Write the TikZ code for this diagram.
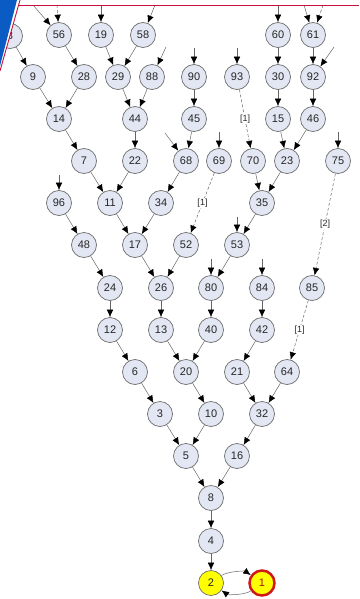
\documentclass[tikz,border=0pt]{standalone}
\usepackage{fontspec}
\setmainfont{Liberation Sans}
\usetikzlibrary{arrows.meta}
\definecolor{nodefill}{HTML}{E3E7F3}
\definecolor{nodeline}{HTML}{6E6E6E}
\definecolor{edgecol}{HTML}{656565}
\definecolor{topred}{HTML}{C8103C}
\definecolor{topblue}{HTML}{0A5CC4}
\definecolor{startyellow}{HTML}{FFFF00}
\definecolor{endred}{HTML}{D01818}
\tikzset{
  nd/.style={circle, draw=nodeline, line width=0.7pt, fill=nodefill, minimum size=25pt, inner sep=0pt,
    font=\fontsize{11}{13}\selectfont, text=black!85},
  ed/.style={draw=edgecol, line width=0.5pt, -{Latex[length=7.5pt,width=6.5pt,color=black]}},
  dsh/.style={ed, densely dashed},
  lbl/.style={fill=white, inner sep=1pt, font=\fontsize{9}{10}\selectfont, text=black!85}
}
\begin{document}
\begin{tikzpicture}[x=1pt,y=-1pt]
\useasboundingbox (0,0) rectangle (359,599);
% nodes
\node[nd] (n8a) at (10,36) {8};
\node[nd] (n56) at (59,35) {56};
\node[nd] (n19) at (101,35) {19};
\node[nd] (n58) at (143,35) {58};
\node[nd] (n60) at (278,35) {60};
\node[nd] (n61) at (313,35) {61};
\node[nd] (n9) at (33,77) {9};
\node[nd] (n28) at (84,77) {28};
\node[nd] (n29) at (118,77) {29};
\node[nd] (n88) at (152,77) {88};
\node[nd] (n90) at (194,77) {90};
\node[nd] (n93) at (237,77) {93};
\node[nd] (n30) at (278,77) {30};
\node[nd] (n92) at (313,77) {92};
\node[nd] (n14) at (59,119) {14};
\node[nd] (n44) at (135,119) {44};
\node[nd] (n45) at (194,119) {45};
\node[nd] (n15) at (278,119) {15};
\node[nd] (n46) at (313,119) {46};
\node[nd] (n7) at (84,161) {7};
\node[nd] (n22) at (135,161) {22};
\node[nd] (n68) at (186,161) {68};
\node[nd] (n69) at (219,161) {69};
\node[nd] (n70) at (253,161) {70};
\node[nd] (n23) at (287,161) {23};
\node[nd] (n75) at (338,161) {75};
\node[nd] (n96) at (59,203) {96};
\node[nd] (n11) at (110,203) {11};
\node[nd] (n34) at (161,203) {34};
\node[nd] (n35) at (262,203) {35};
\node[nd] (n48) at (84,245) {48};
\node[nd] (n17) at (135,245) {17};
\node[nd] (n52) at (186,245) {52};
\node[nd] (n53) at (237,245) {53};
\node[nd] (n24) at (110,288) {24};
\node[nd] (n26) at (161,288) {26};
\node[nd] (n80) at (211,288) {80};
\node[nd] (n84) at (262,288) {84};
\node[nd] (n85) at (312,288) {85};
\node[nd] (n12) at (110,330) {12};
\node[nd] (n13) at (161,330) {13};
\node[nd] (n40) at (211,330) {40};
\node[nd] (n42) at (262,330) {42};
\node[nd] (n6) at (135,372) {6};
\node[nd] (n20) at (186,372) {20};
\node[nd] (n21) at (237,372) {21};
\node[nd] (n64) at (287,372) {64};
\node[nd] (n3) at (160,414) {3};
\node[nd] (n10) at (211,414) {10};
\node[nd] (n32) at (262,414) {32};
\node[nd] (n5) at (186,456) {5};
\node[nd] (n16) at (237,456) {16};
\node[nd] (n8) at (211,498) {8};
\node[nd] (n4) at (211,541) {4};
\node[nd, fill=startyellow] (n2) at (211,583) {2};
\node[nd, fill=startyellow, draw=endred, line width=2.5pt, text=endred!80!black] (n1) at (262,583) {1};
% stub ends
\coordinate (s56a) at (33,5);
\coordinate (s56b) at (57,5);
\coordinate (s19) at (101,5);
\coordinate (s58) at (155,5);
\coordinate (s88) at (166,47);
\coordinate (s90) at (194,48);
\coordinate (s93) at (237,48);
\coordinate (s60) at (278,5);
\coordinate (s61a) at (304,5);
\coordinate (s61b) at (323,5);
\coordinate (s92) at (334,47);
\coordinate (s68) at (165,133);
\coordinate (s69) at (219,132);
\coordinate (s75) at (338,132);
\coordinate (s96) at (59,175);
\coordinate (s53) at (237,217);
\coordinate (s80) at (211,259);
\coordinate (s84) at (262,259);
% stub edges
\draw[ed] (s56a) -- (n56);
\draw[dsh] (s56b) -- (n56);
\draw[ed] (s19) -- (n19);
\draw[ed] (s58) -- (n58);
\draw[ed] (s88) -- (n88);
\draw[ed] (s90) -- (n90);
\draw[ed] (s93) -- (n93);
\draw[ed] (s60) -- (n60);
\draw[ed] (s61a) -- (n61);
\draw[dsh] (s61b) -- (n61);
\draw[ed] (s92) -- (n92);
\draw[ed] (s68) -- (n68);
\draw[ed] (s69) -- (n69);
\draw[ed] (s75) -- (n75);
\draw[ed] (s96) -- (n96);
\draw[ed] (s53) -- (n53);
\draw[ed] (s80) -- (n80);
\draw[ed] (s84) -- (n84);
% edges
\draw[ed] (n8a) -- (n9);
\draw[ed] (n56) -- (n28);
\draw[ed] (n19) -- (n29);
\draw[ed] (n58) -- (n29);
\draw[ed] (n9) -- (n14);
\draw[ed] (n28) -- (n14);
\draw[ed] (n29) -- (n44);
\draw[ed] (n88) -- (n44);
\draw[ed] (n90) -- (n45);
\draw[dsh] (n93) -- node[lbl] {[1]} (n70);
\draw[ed] (n60) -- (n30);
\draw[ed] (n61) -- (n92);
\draw[ed] (n30) -- (n15);
\draw[ed] (n92) -- (n46);
\draw[ed] (n14) -- (n7);
\draw[ed] (n44) -- (n22);
\draw[ed] (n45) -- (n68);
\draw[ed] (n15) -- (n23);
\draw[ed] (n46) -- (n23);
\draw[ed] (n7) -- (n11);
\draw[ed] (n22) -- (n11);
\draw[ed] (n68) -- (n34);
\draw[dsh] (n69) -- node[lbl] {[1]} (n52);
\draw[ed] (n70) -- (n35);
\draw[ed] (n23) -- (n35);
\draw[dsh] (n75) -- node[lbl] {[2]} (n85);
\draw[ed] (n96) -- (n48);
\draw[ed] (n11) -- (n17);
\draw[ed] (n34) -- (n17);
\draw[ed] (n35) -- (n53);
\draw[ed] (n48) -- (n24);
\draw[ed] (n17) -- (n26);
\draw[ed] (n52) -- (n26);
\draw[ed] (n53) -- (n80);
\draw[ed] (n24) -- (n12);
\draw[ed] (n26) -- (n13);
\draw[ed] (n80) -- (n40);
\draw[ed] (n84) -- (n42);
\draw[dsh] (n85) -- node[lbl] {[1]} (n64);
\draw[ed] (n12) -- (n6);
\draw[ed] (n13) -- (n20);
\draw[ed] (n40) -- (n20);
\draw[ed] (n42) -- (n21);
\draw[ed] (n6) -- (n3);
\draw[ed] (n20) -- (n10);
\draw[ed] (n21) -- (n32);
\draw[ed] (n64) -- (n32);
\draw[ed] (n3) -- (n5);
\draw[ed] (n10) -- (n5);
\draw[ed] (n32) -- (n16);
\draw[ed] (n5) -- (n8);
\draw[ed] (n16) -- (n8);
\draw[ed] (n8) -- (n4);
\draw[ed] (n4) -- (n2);
\draw[ed] (n2) .. controls (228,571) and (245,571) .. (n1);
\draw[ed] (n1) .. controls (245,595) and (228,595) .. (n2);
% corner decoration
\fill[white] (0,0) -- (20,0) -- (0,71) -- cycle;
\fill[topblue] (0,0) -- (17,0) -- (0,66) -- cycle;
\draw[topred, line width=0.9pt] (20,0) -- (0,71);
\draw[topred, line width=0.9pt] (18.6,5) -- (359,5);
\end{tikzpicture}
\end{document}
